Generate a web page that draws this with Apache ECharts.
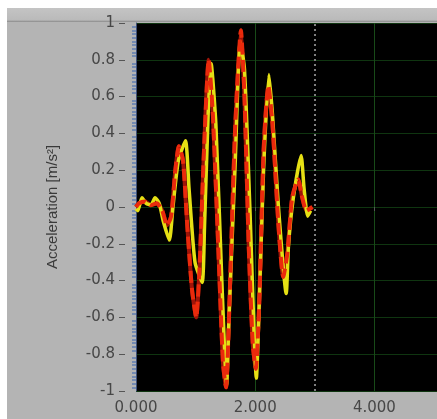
<!DOCTYPE html>
<html>
<head>
<meta charset="utf-8">
<script src="https://cdn.jsdelivr.net/npm/echarts@6/dist/echarts.min.js"></script>
<style>
  html, body { margin: 0; padding: 0; background: #ffffff; }
  #chart { width: 437px; height: 419px; }
</style>
</head>
<body>
<div id="chart"></div>
<script>
// Two acceleration traces [time, m/s²]
const redTrace = [
  [0.00, 0.00], [0.05, 0.02], [0.15, 0.03], [0.25, 0.01], [0.35, 0.02],
  [0.44, -0.02], [0.52, -0.10], [0.59, -0.05], [0.66, 0.20], [0.72, 0.33],
  [0.79, 0.25], [0.86, -0.10], [0.94, -0.45], [1.01, -0.60], [1.07, -0.30],
  [1.14, 0.30], [1.22, 0.80], [1.29, 0.50], [1.39, -0.30], [1.46, -0.85],
  [1.51, -0.98], [1.57, -0.50], [1.66, 0.40], [1.76, 0.96], [1.82, 0.60],
  [1.89, -0.20], [1.96, -0.75], [2.01, -0.88], [2.07, -0.50], [2.14, 0.30],
  [2.22, 0.66], [2.29, 0.45], [2.39, -0.10], [2.47, -0.38], [2.54, -0.25],
  [2.62, 0.05], [2.72, 0.15], [2.79, 0.05], [2.86, -0.02], [2.96, 0.00]
];
const yellowTrace = [
  [0.00, -0.01], [0.03, -0.02], [0.10, 0.05], [0.17, 0.02], [0.25, 0.01],
  [0.32, 0.05], [0.39, 0.02], [0.46, -0.08], [0.56, -0.18], [0.62, 0.00],
  [0.71, 0.25], [0.83, 0.36], [0.89, 0.10], [0.99, -0.30], [1.11, -0.41],
  [1.15, -0.10], [1.21, 0.50], [1.26, 0.78], [1.34, 0.45], [1.44, -0.40],
  [1.52, -0.97], [1.56, -0.60], [1.66, 0.20], [1.75, 0.90], [1.82, 0.75],
  [1.91, 0.00], [2.02, -0.93], [2.06, -0.60], [2.14, 0.20], [2.23, 0.72],
  [2.29, 0.50], [2.39, 0.00], [2.52, -0.47], [2.56, -0.20], [2.64, 0.05],
  [2.77, 0.28], [2.82, 0.10], [2.88, -0.05], [2.93, -0.02]
];
const cursorTime = 3.0;
const xTicks = [0, 2, 4];
const yAxisTitle = 'Acceleration [m/s²]';

const chart = echarts.init(document.getElementById('chart'), null, { renderer: 'canvas' });

const labelFont = { fontFamily: 'DejaVu Sans', fontSize: 15, color: '#474747' };

chart.setOption({
  backgroundColor: '#b4b4b4',
  animation: false,
  graphic: [
    { type: 'rect', shape: { x: 0, y: 0, width: 437, height: 8 }, style: { fill: '#ffffff' }, silent: true },
    { type: 'rect', shape: { x: 0, y: 0, width: 7, height: 419 }, style: { fill: '#ffffff' }, silent: true },
    {
      type: 'rect', shape: { x: 7, y: 8, width: 430, height: 14 }, silent: true,
      style: {
        fill: new echarts.graphic.LinearGradient(0, 0, 0, 1, [
          { offset: 0, color: '#c4c4c4' },
          { offset: 0.85, color: '#bababa' },
          { offset: 1, color: '#8a8a8a' }
        ])
      }
    }
  ],
  grid: {
    left: 136, top: 23, right: 0, bottom: 28,
    show: true, backgroundColor: '#000000', borderWidth: 0
  },
  xAxis: {
    type: 'value', min: 0, max: 5.05, interval: 2,
    axisLine: { show: false },
    axisTick: { show: true, length: 4, lineStyle: { color: '#555555' } },
    axisLabel: Object.assign({
      margin: 10,
      showMaxLabel: false,
      formatter: v => (xTicks.indexOf(v) >= 0 ? v.toFixed(3) : '')
    }, labelFont),
    splitLine: { show: true, lineStyle: { color: '#184a18', width: 1 } }
  },
  yAxis: [
    {
      type: 'value', min: -1, max: 1, interval: 0.2,
      name: yAxisTitle, nameLocation: 'middle', nameRotate: 90, nameGap: 76,
      nameTextStyle: { fontFamily: 'Liberation Sans', fontSize: 15, color: '#3a3a3a' },
      axisLine: { show: true, lineStyle: { color: '#3e5078', width: 1 } },
      axisTick: { show: false, inside: false },
      minorTick: { show: true, splitNumber: 10, length: 4, lineStyle: { color: '#5f7db3', width: 1.5 } },
      axisLabel: Object.assign({
        margin: 21,
        formatter: v => String(Math.round(v * 10) / 10)
      }, labelFont),
      splitLine: { show: true, lineStyle: { color: '#0f3510', width: 1 } }
    },
    {
      type: 'value', min: -1, max: 1, interval: 0.2, position: 'left', offset: 11,
      axisLine: { show: false },
      axisTick: { show: true, length: 6, lineStyle: { color: '#555555', width: 1 } },
      axisLabel: { show: false },
      splitLine: { show: false }
    }
  ],
  series: [
    {
      type: 'line', data: redTrace, showSymbol: false, smooth: 0.2,
      lineStyle: { color: '#a01408', width: 4 }, z: 2
    },
    {
      type: 'line', data: yellowTrace, showSymbol: false, smooth: 0.2,
      lineStyle: { color: '#e6e014', width: 3.5 }, z: 3,
      markLine: {
        silent: true, symbol: 'none', label: { show: false },
        lineStyle: { color: '#7e7e7e', type: [2, 3], width: 2 },
        data: [{ xAxis: cursorTime }]
      }
    },
    {
      type: 'line', data: redTrace, showSymbol: false, smooth: 0.2,
      lineStyle: { color: '#ea2a0c', width: 4, type: [12, 5] }, z: 4
    }
  ]
});
</script>
</body>
</html>
